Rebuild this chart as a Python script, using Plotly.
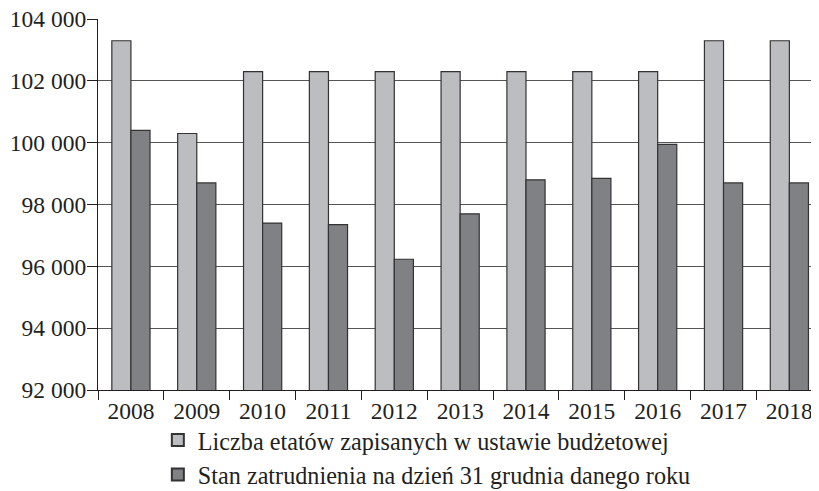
import plotly.graph_objects as go

years = ["2008", "2009", "2010", "2011", "2012", "2013", "2014", "2015", "2016", "2017", "2018"]
etaty_ustawa = [103300, 100300, 102300, 102300, 102300, 102300, 102300, 102300, 102300, 103300, 103300]
stan_zatrudnienia = [100400, 98700, 97400, 97350, 96230, 97700, 98800, 98850, 99950, 98700, 98700]
series_names = ["Liczba etatów zapisanych w ustawie budżetowej",
                "Stan zatrudnienia na dzień 31 grudnia danego roku"]
y_tickvals = [92000, 94000, 96000, 98000, 100000, 102000, 104000]
y_ticktext = ["92 000", "94 000", "96 000", "98 000", "100 000", "102 000", "104 000"]

FONT = "Times New Roman, Liberation Serif, serif"
line_col = "#333333"

fig = go.Figure()
fig.add_trace(go.Bar(x=years, y=etaty_ustawa, name=series_names[0],
                     marker=dict(color="#bcbdc1", line=dict(color=line_col, width=1.2))))
fig.add_trace(go.Bar(x=years, y=stan_zatrudnienia, name=series_names[1],
                     marker=dict(color="#808185", line=dict(color=line_col, width=1.2))))

fig.update_layout(
    width=811, height=483,
    margin=dict(l=90, r=0, t=11, b=101, autoexpand=False),
    paper_bgcolor="white", plot_bgcolor="white",
    font=dict(family=FONT, size=23.5, color="#231f20"),
    barmode="group", bargap=0.42, bargroupgap=0,
    showlegend=True,
    legend=dict(orientation="v", x=0.083, xanchor="left", y=-0.075, yanchor="top",
                font=dict(family=FONT, size=24.2, color="#231f20"),
                bgcolor="rgba(0,0,0,0)", tracegroupgap=0, itemsizing="constant"),
)
fig.update_xaxes(type="category", range=[-0.5, 10.45], showline=True, linecolor="#231f20", linewidth=1.2,
                 ticks="outside", tickson="boundaries", ticklen=9, tickcolor="#231f20", tickwidth=1,
                 showgrid=False, automargin=False, tickfont=dict(family=FONT, size=23.5))
fig.update_yaxes(range=[92000, 104004], tickvals=y_tickvals, ticktext=y_ticktext,
                 showline=True, linecolor="#231f20", linewidth=1.2,
                 ticks="outside", ticklen=10, tickcolor="#231f20", tickwidth=1,
                 ticklabelstandoff=-4, ticklabeloverflow="allow",
                 showgrid=True, gridcolor="#555555", gridwidth=1.2, zeroline=False,
                 automargin=False, tickfont=dict(family=FONT, size=23.5))

fig.write_html("out.html")
